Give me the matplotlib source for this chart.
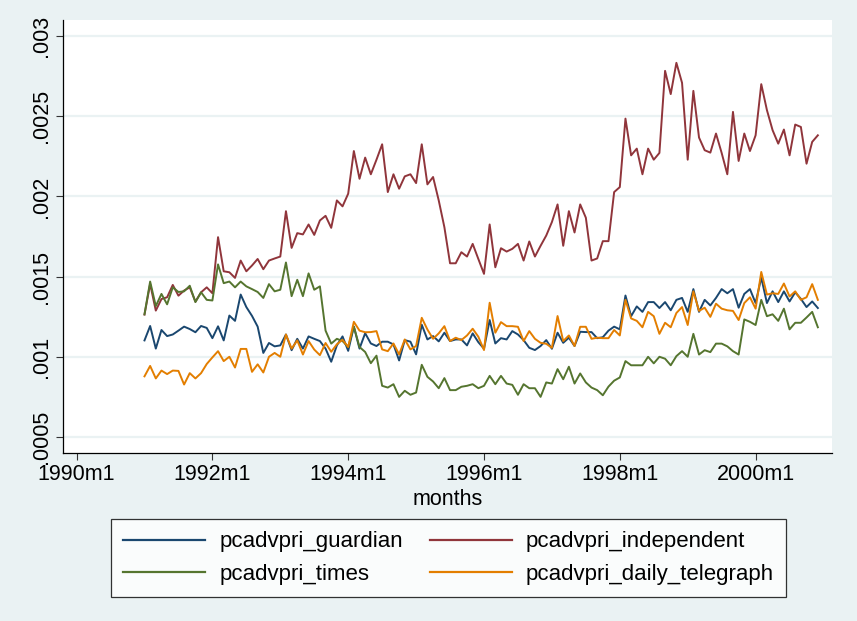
import numpy as np
import matplotlib.pyplot as plt
from matplotlib.lines import Line2D

plt.rcParams['font.family'] = ['Liberation Sans', 'DejaVu Sans']

# monthly series, 1991m1 .. 2000m12, values in units of 1e-4
guardian = np.array([
    11.02, 11.92, 10.51, 11.67, 11.29, 11.39, 11.63, 11.88, 11.73, 11.53,
    11.92, 11.80, 11.16, 11.90, 11.02, 12.57, 12.24, 13.88, 13.10, 12.55,
    11.88, 10.24, 10.86, 10.65, 10.71, 11.39, 10.41, 11.12, 10.51, 11.27,
    11.12, 10.98, 10.51, 9.69, 10.71, 11.27, 10.37, 11.88, 10.51, 11.47,
    10.83, 10.67, 10.94, 10.94, 10.77, 9.77, 11.04, 10.94, 10.15, 12.00,
    11.08, 11.29, 10.96, 11.50, 10.98, 11.08, 11.08, 10.71, 11.46, 10.91,
    10.50, 12.29, 10.83, 11.16, 11.08, 11.60, 11.39, 11.04, 10.56, 10.42,
    10.67, 11.04, 10.50, 11.50, 10.87, 11.19, 10.67, 11.56, 11.54, 11.54,
    11.16, 11.22, 11.63, 11.88, 11.71, 13.82, 12.53, 13.14, 12.80, 13.41,
    13.41, 13.04, 13.41, 12.90, 13.55, 13.67, 12.80, 14.22, 12.80, 13.55,
    13.20, 13.67, 14.22, 13.96, 14.22, 13.06, 13.92, 14.22, 13.35, 14.94,
    13.35, 14.08, 13.41, 14.08, 13.45, 14.02, 13.61, 13.10, 13.45, 13.04]) * 1e-4

independent = np.array([
    12.63, 14.54, 12.88, 13.60, 13.71, 14.48, 13.81, 14.13, 14.33, 13.44,
    14.02, 14.33, 13.96, 17.46, 15.33, 15.27, 14.92, 16.00, 15.33, 15.69,
    16.10, 15.46, 16.00, 16.13, 16.25, 19.08, 16.79, 17.71, 17.63, 18.25,
    17.60, 18.50, 18.79, 18.04, 19.75, 19.38, 20.17, 22.83, 21.10, 22.42,
    21.38, 22.29, 23.25, 20.27, 21.38, 20.48, 21.25, 21.38, 20.83, 23.25,
    20.75, 21.21, 19.75, 18.08, 15.83, 15.83, 16.52, 16.25, 17.04, 16.10,
    15.17, 18.25, 15.58, 16.77, 16.56, 16.73, 17.04, 16.00, 17.19, 16.25,
    16.92, 17.56, 18.40, 19.50, 16.92, 19.08, 17.75, 19.50, 18.67, 16.00,
    16.13, 17.21, 17.21, 20.27, 20.58, 24.85, 22.56, 22.98, 21.38, 22.98,
    22.29, 22.71, 27.83, 26.38, 28.33, 27.08, 22.29, 26.58, 23.67, 22.88,
    22.73, 23.92, 22.71, 21.38, 25.27, 22.21, 23.92, 22.83, 23.81, 27.00,
    25.38, 24.13, 23.29, 24.17, 22.56, 24.48, 24.33, 22.04, 23.40, 23.81]) * 1e-4

times = np.array([
    12.65, 14.69, 13.16, 13.92, 13.27, 14.33, 14.04, 14.08, 14.43, 13.41,
    14.02, 13.55, 13.51, 15.76, 14.59, 14.69, 14.33, 14.69, 14.39, 14.22,
    14.04, 13.67, 14.53, 14.08, 14.18, 15.88, 13.78, 14.80, 13.78, 15.20,
    14.18, 14.39, 11.63, 10.82, 11.12, 10.98, 10.61, 11.88, 10.61, 10.30,
    9.60, 10.07, 8.19, 8.08, 8.29, 7.50, 7.88, 7.63, 7.77, 9.50,
    8.75, 8.46, 8.04, 8.67, 7.92, 7.92, 8.13, 8.19, 8.29, 8.04,
    8.19, 8.81, 8.29, 8.81, 8.33, 8.25, 7.63, 8.29, 8.04, 8.04,
    7.50, 8.40, 8.33, 9.23, 8.60, 9.38, 8.33, 8.96, 8.40, 8.08,
    7.92, 7.60, 8.14, 8.51, 8.71, 9.73, 9.47, 9.47, 9.47, 10.00,
    9.59, 10.00, 9.88, 9.47, 10.04, 10.35, 10.00, 11.43, 10.14, 10.41,
    10.29, 10.82, 10.82, 10.65, 10.35, 10.14, 12.33, 12.18, 11.98, 13.55,
    12.53, 12.65, 12.24, 13.00, 11.71, 12.12, 12.12, 12.45, 12.80, 11.84]) * 1e-4

daily_telegraph = np.array([
    8.78, 9.43, 8.65, 9.14, 8.92, 9.14, 9.12, 8.27, 8.98, 8.65,
    8.98, 9.55, 9.96, 10.35, 9.73, 10.00, 9.33, 10.49, 10.49, 9.06,
    9.53, 9.02, 10.00, 10.24, 10.00, 11.39, 10.51, 11.02, 10.14, 10.98,
    10.45, 10.10, 10.86, 10.31, 10.78, 11.06, 10.61, 12.18, 11.63, 11.53,
    11.54, 11.60, 10.46, 10.35, 10.83, 10.15, 11.08, 10.46, 10.67, 12.43,
    11.70, 11.12, 11.46, 11.91, 10.98, 11.19, 11.04, 11.33, 11.75, 11.25,
    10.42, 13.37, 11.50, 12.16, 11.91, 11.91, 11.87, 10.98, 11.60, 11.12,
    10.87, 10.81, 10.56, 12.54, 10.98, 11.33, 10.67, 11.87, 11.87, 11.12,
    11.19, 11.16, 11.16, 11.67, 11.33, 13.55, 12.39, 12.24, 11.84, 12.80,
    12.53, 11.43, 12.12, 11.84, 12.73, 13.10, 11.98, 14.08, 12.86, 13.06,
    12.49, 13.31, 13.00, 12.90, 12.86, 12.29, 13.35, 13.71, 13.00, 15.29,
    13.88, 13.96, 13.92, 14.57, 13.76, 14.08, 13.55, 13.71, 14.53, 13.55]) * 1e-4

# months counted from 1990m1
months = np.arange(12, 12 + len(guardian))
xtick_pos = [0, 24, 48, 72, 96, 120]
xtick_labels = ['1990m1', '1992m1', '1994m1', '1996m1', '1998m1', '2000m1']
ytick_pos = [0.0005, 0.001, 0.0015, 0.002, 0.0025, 0.003]
ytick_labels = ['.0005', '.001', '.0015', '.002', '.0025', '.003']

names = ['pcadvpri_guardian', 'pcadvpri_independent',
         'pcadvpri_times', 'pcadvpri_daily_telegraph']
colors = ['#1a476f', '#90353b', '#55752f', '#e37e00']
bg = '#eaf2f3'
fs = 15.5

fig = plt.figure(figsize=(8.57, 6.21), dpi=100, facecolor=bg)
ax = fig.add_axes([63/857, 1 - 453/621, (832 - 63)/857, (453 - 20)/621])
ax.set_facecolor('white')

for series, c in zip([guardian, independent, times, daily_telegraph], colors):
    ax.plot(months, series, color=c, lw=1.4, zorder=3)

ax.set_xlim(-2.4, 133.5)
ax.set_ylim(0.0004, 0.0031)
ax.set_xticks(xtick_pos)
ax.set_xticklabels(xtick_labels, fontsize=fs)
ax.set_yticks(ytick_pos)
ax.set_yticklabels(ytick_labels, fontsize=fs, rotation=90, va='center')
ax.grid(axis='y', color=bg, lw=1.6, zorder=0)
ax.tick_params(direction='out', length=5, width=0.8, color='#333333', pad=3)
for s in ['top', 'right']:
    ax.spines[s].set_visible(False)
for s in ['left', 'bottom']:
    ax.spines[s].set_color('black')
    ax.spines[s].set_linewidth(0.9)
ax.set_xlabel('months', fontsize=fs, labelpad=3)

handles = [Line2D([], [], color=c, lw=1.6) for c in colors]
order = [0, 2, 1, 3]
leg = fig.legend([handles[i] for i in order], [names[i] for i in order],
                 ncol=2, loc='center', bbox_to_anchor=(448.5/857, 1 - 558/621),
                 fontsize=16, frameon=True, fancybox=False, edgecolor='black',
                 handlelength=3.7, handletextpad=0.63, columnspacing=1.2,
                 borderpad=0.55, labelspacing=0.5)
leg.get_frame().set_linewidth(0.9)

fig.savefig('out.png', dpi=100, facecolor=bg)
